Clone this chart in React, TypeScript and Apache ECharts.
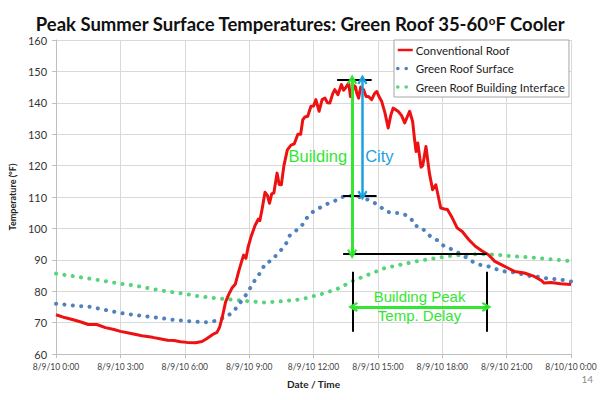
import React, { useEffect, useRef } from "react";
import * as echarts from "echarts";

const xTickLabels = [
  "8/9/10 0:00", "8/9/10 3:00", "8/9/10 6:00", "8/9/10 9:00", "8/9/10 12:00",
  "8/9/10 15:00", "8/9/10 18:00", "8/9/10 21:00", "8/10/10 0:00",
];

const seriesNames = ["Conventional Roof", "Green Roof Surface", "Green Roof Building Interface"];

const conventionalHours = [
  0, 0.4, 0.8, 1.2, 1.5, 1.9, 2.3, 2.7, 3.0, 3.5, 4.0, 4.5, 4.9, 5.2, 5.5, 5.8, 6.1, 6.5, 6.8, 7.0,
  7.3, 7.5, 7.62, 7.75, 7.9, 8.05, 8.2, 8.36, 8.5, 8.65, 8.74, 8.85, 8.95, 9.1, 9.28, 9.43, 9.5, 9.6,
  9.74, 9.85, 9.95, 10.05, 10.15, 10.3, 10.4, 10.5, 10.62, 10.78, 10.95, 11.1, 11.27, 11.4, 11.5, 11.6,
  11.73, 11.88, 12.0, 12.11, 12.26, 12.4, 12.53, 12.65, 12.76, 12.9, 12.99, 13.14, 13.3, 13.4, 13.49,
  13.64, 13.72, 13.79, 13.87, 13.95, 14.02, 14.1, 14.2, 14.33, 14.45, 14.56, 14.71, 14.85, 14.95, 15.05,
  15.18, 15.33, 15.48, 15.6, 15.71, 15.94, 16.1, 16.25, 16.48, 16.62, 16.71, 16.78, 16.86, 17.01, 17.09,
  17.24, 17.4, 17.55, 17.7, 17.93, 18.1, 18.24, 18.47, 18.7, 18.93, 19.24, 19.54, 19.84, 20.15, 20.45,
  20.91, 21.37, 21.83, 22.29, 22.6, 22.75, 23.06, 23.52, 24,
];
const conventionalTemps = [
  72.5, 71.6, 70.9, 70.1, 69.4, 69.4, 68.4, 67.8, 67.2, 66.5, 65.8, 65.3, 64.8, 64.4, 64.3, 63.9, 63.7, 63.6, 64.0, 64.8,
  66.2, 66.9, 68.5, 71.8, 76.5, 79, 81, 82.3, 86, 89.5, 91.5, 90.5, 94, 97.6, 101, 103, 102.5, 106,
  111.5, 110.5, 108, 111, 111.3, 117.6, 114, 113.9, 120, 125, 126.5, 126.9, 130, 130, 134.6, 135.5,
  135.7, 138.9, 139, 141, 137.3, 141, 141.5, 140, 139.9, 143, 144.2, 142.6, 145.8, 144, 144.7,
  146.3, 142, 142.6, 145.5, 145.2, 143, 141.5, 145, 144.2, 142, 142, 141, 143, 143.6, 142,
  140.4, 136.8, 132, 136, 138.3, 137.3, 136, 133.6, 137.3, 134, 128.3, 124.5, 127.2, 119.5, 120,
  126.1, 117.6, 112.3, 113.9, 106.5, 106.2, 106, 103.3, 100.1, 99, 96.4, 94.3, 92.9, 91.6, 89.5,
  87.9, 86.3, 85.8, 84.7, 83.5, 82.6, 82.8, 82.4, 82.1,
];

const surfaceHours = [
  0, 0.86, 1.62, 2.39, 3.15, 3.92, 4.69, 5.45, 6.14, 6.9, 7.29, 7.67, 7.97, 8.28, 8.51, 8.74, 8.97,
  9.13, 9.36, 9.59, 9.74, 10.05, 10.28, 10.5, 10.74, 10.89, 11.2, 11.42, 11.58, 11.81, 12.11, 12.42,
  12.72, 13.03, 13.33, 13.72, 14.02, 14.26, 14.56, 14.8, 15.1, 15.33, 15.63, 15.94, 16.25, 16.55,
  16.71, 17.01, 17.47, 17.78, 18.09, 18.39, 18.75, 19.08, 19.39, 19.77, 20.15, 20.53, 20.91, 21.3,
  21.6, 21.99, 22.37, 22.75, 23.14, 23.52, 24,
];
const surfaceTemps = [
  76.0, 75.4, 75.0, 73.9, 72.9, 72.2, 71.6, 70.9, 70.5, 70.1, 70.3, 71.2, 72.0, 73.6, 75.7, 77.8, 79.9,
  82.1, 84.4, 86.6, 88.8, 89.8, 91.6, 93.2, 95.4, 97.7, 99.4, 100.4, 102.4, 104.4, 106, 107,
  108.1, 108.9, 110, 110.4, 110.2, 109.7, 109.1, 108.3, 107, 105.6, 104.9, 104.9, 104.4, 103.1,
  100.9, 100.4, 97.3, 96.2, 94.3, 93.5, 92.2, 90.9, 89.5, 88.4, 87.9, 87, 86.3, 86,
  85.6, 84.9, 84.7, 84.2, 83.9, 83.7, 83.1,
];

const interfaceHours = [
  0, 0.69, 1.46, 2.22, 2.98, 3.67, 4.44, 5.2, 5.97, 6.74, 7.52, 8.2, 8.97, 9.74, 10.5, 11.27, 11.65,
  12.42, 13.1, 13.87, 14.56, 15.33, 16.02, 16.78, 17.47, 18.24, 19.0, 19.77, 20.53, 21.3, 22.06, 22.83,
  23.6, 24,
];
const interfaceTemps = [
  85.6, 84.9, 84.1, 83.3, 82.4, 81.8, 80.8, 79.9, 79.2, 78.3, 77.7, 77.3, 76.8, 76.4, 76.8, 77.3, 77.8,
  79.2, 80.7, 83.4, 85.3, 87.4, 88.4, 89.5, 90.3, 91.1, 91.6, 91.8, 91.6, 91.1, 90.8, 90.3,
  89.8, 89.6,
];

// annotation values (data units)
const roofPeakTemp = 147.4;
const surfacePeakTemp = 110.5;
const interfacePeakTemp = 91.85;
const roofPeakSpan = [13.1, 14.71];
const surfacePeakSpan = [13.38, 14.94];
const interfacePeakSpan = [13.38, 20.07];
const buildingArrowHour = 13.8;
const cityArrowHour = 14.28;
const delayHours = [13.84, 20.07];
const delayTickTemps = [67.1, 86.2];
const delayArrowTemp = 75.0;
const buildingLabelPos = [12.2, 123.2];
const cityLabelPos = [15.07, 123.2];
const delayLabelPos = [16.94, 75.2];

const RED = "#ee1111";
const BLUE = "#4f81bd";
const DOTGREEN = "#55d47a";
const ARROWGREEN = "#33e633";
const CITYBLUE = "#1ba1e2";

const chevron = "path://M5,0 L10,8 L8.2,9.2 L5,4.2 L1.8,9.2 L0,8 Z";

function zip(xs: number[], ys: number[]) {
  return xs.map((x, i) => [x, ys[i]]);
}

function seg(a: number[], b: number[], color: string, width: number, arrow: boolean) {
  const sym = arrow ? chevron : "none";
  return [
    { coord: a, symbol: sym, symbolSize: [10, 10], lineStyle: { color, width, type: "solid" }, itemStyle: { color } },
    { coord: b, symbol: sym, symbolSize: [10, 10] },
  ];
}

export default function App() {
  const ref = useRef<HTMLDivElement>(null);
  useEffect(() => {
    if (!ref.current) return;
    const chart = echarts.init(ref.current, undefined, { renderer: "svg" });
    const font = "Lato";
    const hiddenSymbol = { color: "rgba(0,0,0,0)", opacity: 0, borderWidth: 0 };
    const option: any = {
      animation: false,
      backgroundColor: "#ffffff",
      title: {
        text: "Peak Summer Surface Temperatures: Green Roof 35-60{sup|o}F Cooler",
        left: "center",
        top: 14,
        padding: 0,
        textStyle: {
          fontFamily: font,
          fontWeight: "bold",
          fontSize: 18.5,
          lineHeight: 19,
          color: "#111",
          rich: {
            sup: { fontFamily: font, fontWeight: "bold", fontSize: 11.5, verticalAlign: "top", color: "#111" },
          },
        },
      },
      grid: { left: 48, right: 29, top: 40, bottom: 46 },
      legend: {
        orient: "vertical",
        left: 394,
        top: 40,
        itemWidth: 15,
        itemHeight: 12,
        itemGap: 6.5,
        padding: [4, 4, 4, 2],
        backgroundColor: "#ffffff",
        borderColor: "#a6a6a6",
        borderWidth: 1,
        borderRadius: 0,
        textStyle: { fontFamily: font, fontSize: 11.5, color: "#222", padding: [0, 0, 0, -2] },
        data: [
          { name: seriesNames[0], lineStyle: { width: 2.5 }, itemStyle: hiddenSymbol },
          { name: seriesNames[1], lineStyle: { width: 3.5 }, itemStyle: hiddenSymbol },
          { name: seriesNames[2], lineStyle: { width: 3.5 }, itemStyle: hiddenSymbol },
        ],
      },
      xAxis: {
        type: "value",
        min: 0,
        max: 24,
        interval: 3,
        name: "Date / Time",
        nameLocation: "middle",
        nameGap: 25,
        nameTextStyle: { fontFamily: font, fontWeight: "bold", fontSize: 10, color: "#222" },
        axisLine: { show: true, lineStyle: { color: "#bfbfbf", width: 1 } },
        axisTick: { show: true, length: 4, lineStyle: { color: "#bfbfbf" } },
        axisLabel: {
          fontFamily: font,
          fontSize: 8.5,
          color: "#444",
          margin: 8,
          showMinLabel: true,
          showMaxLabel: true,
          formatter: (v: number) => xTickLabels[Math.round(v / 3)] ?? "",
        },
        splitLine: { show: true, lineStyle: { color: "#d9d9d9", width: 1 } },
      },
      yAxis: {
        type: "value",
        min: 60,
        max: 160,
        interval: 10,
        name: "Temperature (°F)",
        nameLocation: "middle",
        nameRotate: 90,
        nameGap: 33,
        nameTextStyle: { fontFamily: font, fontWeight: "bold", fontSize: 9, color: "#222" },
        axisLine: { show: true, lineStyle: { color: "#bfbfbf", width: 1 } },
        axisTick: { show: true, length: 4, lineStyle: { color: "#bfbfbf" } },
        axisLabel: { fontFamily: font, fontSize: 11, color: "#333", margin: 9 },
        splitLine: { show: true, lineStyle: { color: "#d9d9d9", width: 1 } },
      },
      series: [
        {
          name: seriesNames[0],
          type: "line",
          symbol: "none",
          z: 4,
          data: zip(conventionalHours, conventionalTemps),
          lineStyle: { color: RED, width: 3, join: "round" },
          itemStyle: { color: RED },
          markLine: {
            silent: true,
            animation: false,
            symbol: ["none", "none"],
            label: { show: false },
            emphasis: { disabled: true },
            lineStyle: { type: "solid" },
            z: 10,
            data: [
              seg([roofPeakSpan[0], roofPeakTemp], [roofPeakSpan[1], roofPeakTemp], "#000", 2, false),
              seg([surfacePeakSpan[0], surfacePeakTemp], [surfacePeakSpan[1], surfacePeakTemp], "#000", 2, false),
              seg([interfacePeakSpan[0], interfacePeakTemp], [interfacePeakSpan[1], interfacePeakTemp], "#000", 2, false),
              seg([delayHours[0], delayTickTemps[0]], [delayHours[0], delayTickTemps[1]], "#000", 2, false),
              seg([delayHours[1], delayTickTemps[0]], [delayHours[1], delayTickTemps[1]], "#000", 2, false),
              seg([buildingArrowHour, roofPeakTemp], [buildingArrowHour, interfacePeakTemp], ARROWGREEN, 3, true),
              seg([cityArrowHour, roofPeakTemp], [cityArrowHour, surfacePeakTemp], CITYBLUE, 2.5, true),
              seg([delayHours[0], delayArrowTemp], [delayHours[1], delayArrowTemp], ARROWGREEN, 3, true),
            ],
          },
          markPoint: {
            silent: true,
            animation: false,
            symbol: "circle",
            symbolSize: 0,
            z: 11,
            label: {
              show: true,
              position: "inside",
              formatter: "{b}",
              fontFamily: "Liberation Sans",
            },
            data: [
              { name: "Building", coord: buildingLabelPos, label: { color: ARROWGREEN, fontSize: 16.5 } },
              { name: "City", coord: cityLabelPos, label: { color: CITYBLUE, fontSize: 16.5 } },
              {
                name: "Building Peak\nTemp. Delay",
                coord: delayLabelPos,
                label: { color: ARROWGREEN, fontSize: 15, lineHeight: 18.7, align: "center" },
              },
            ],
          },
        },
        {
          name: seriesNames[1],
          type: "line",
          symbol: "none",
          z: 3,
          data: zip(surfaceHours, surfaceTemps),
          lineStyle: { color: BLUE, width: 4, type: [0.1, 8.3], cap: "round" },
          itemStyle: { color: BLUE },
        },
        {
          name: seriesNames[2],
          type: "line",
          symbol: "none",
          z: 2,
          data: zip(interfaceHours, interfaceTemps),
          lineStyle: { color: DOTGREEN, width: 4, type: [0.1, 8.3], cap: "round" },
          itemStyle: { color: DOTGREEN },
        },
      ],
      graphic: [
        {
          type: "text",
          right: 7,
          top: 374,
          style: { text: "14", fontFamily: font, fontSize: 10, fill: "#8c8c8c" },
        },
      ],
    };
    chart.setOption(option);
    return () => chart.dispose();
  }, []);
  return (
    <div
      ref={ref}
      style={{ position: "fixed", left: 0, top: 0, width: 600, height: 400, background: "#fff" }}
    />
  );
}
